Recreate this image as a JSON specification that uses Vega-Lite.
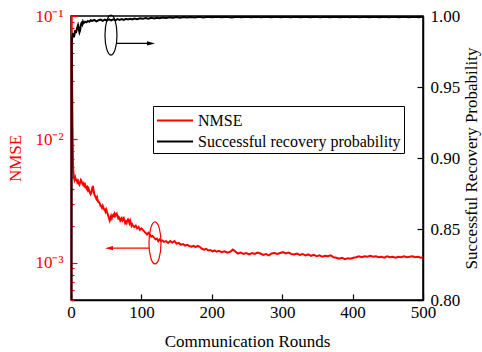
{
  "$schema": "https://vega.github.io/schema/vega-lite/v6.json",
  "width": 352,
  "height": 284,
  "autosize": {"type": "none"},
  "padding": {"left": 71, "top": 16, "right": 59, "bottom": 52},
  "background": "white",
  "config": {
    "font": "Liberation Serif",
    "view": {"stroke": "black", "strokeWidth": 1.5},
    "axis": {"grid": false, "titleFontWeight": "normal", "labelFontWeight": "normal", "labelFont": "Liberation Serif", "titleFont": "Liberation Serif"},
    "legend": {"labelFont": "Liberation Serif"}
  },
  "datasets": {
    "nmse": [
      {"round": 0, "nmse": 0.5}, {"round": 1, "nmse": 0.08}, {"round": 2, "nmse": 0.015}, {"round": 3, "nmse": 0.0058},
      {"round": 4, "nmse": 0.005}, {"round": 5, "nmse": 0.0047}, {"round": 6, "nmse": 0.0049}, {"round": 7, "nmse": 0.0046},
      {"round": 8, "nmse": 0.0048}, {"round": 9, "nmse": 0.0045}, {"round": 10, "nmse": 0.0046}, {"round": 11, "nmse": 0.0044},
      {"round": 12, "nmse": 0.0043}, {"round": 13, "nmse": 0.0045}, {"round": 14, "nmse": 0.0047}, {"round": 15, "nmse": 0.0046},
      {"round": 16, "nmse": 0.0044}, {"round": 17, "nmse": 0.0043}, {"round": 18, "nmse": 0.0044}, {"round": 19, "nmse": 0.0042},
      {"round": 20, "nmse": 0.0043}, {"round": 21, "nmse": 0.0041}, {"round": 22, "nmse": 0.004}, {"round": 23, "nmse": 0.0041},
      {"round": 24, "nmse": 0.0039}, {"round": 25, "nmse": 0.004}, {"round": 26, "nmse": 0.0038}, {"round": 27, "nmse": 0.0037},
      {"round": 28, "nmse": 0.0036}, {"round": 29, "nmse": 0.0037}, {"round": 30, "nmse": 0.004}, {"round": 31, "nmse": 0.0042},
      {"round": 32, "nmse": 0.0039}, {"round": 33, "nmse": 0.0036}, {"round": 34, "nmse": 0.0035}, {"round": 35, "nmse": 0.0034},
      {"round": 36, "nmse": 0.0033}, {"round": 37, "nmse": 0.0034}, {"round": 38, "nmse": 0.0032}, {"round": 39, "nmse": 0.0031},
      {"round": 40, "nmse": 0.0031}, {"round": 41, "nmse": 0.003}, {"round": 42, "nmse": 0.0029}, {"round": 43, "nmse": 0.0029},
      {"round": 44, "nmse": 0.0028}, {"round": 45, "nmse": 0.0029}, {"round": 46, "nmse": 0.0028}, {"round": 47, "nmse": 0.0027},
      {"round": 48, "nmse": 0.0027}, {"round": 49, "nmse": 0.0026}, {"round": 50, "nmse": 0.0027}, {"round": 51, "nmse": 0.0026},
      {"round": 52, "nmse": 0.0025}, {"round": 53, "nmse": 0.0024}, {"round": 54, "nmse": 0.0023}, {"round": 55, "nmse": 0.0022},
      {"round": 56, "nmse": 0.0023}, {"round": 57, "nmse": 0.0024}, {"round": 58, "nmse": 0.0023}, {"round": 59, "nmse": 0.0024},
      {"round": 60, "nmse": 0.00245}, {"round": 61, "nmse": 0.0024}, {"round": 62, "nmse": 0.0025}, {"round": 63, "nmse": 0.0024},
      {"round": 64, "nmse": 0.00245}, {"round": 65, "nmse": 0.0025}, {"round": 66, "nmse": 0.0024}, {"round": 67, "nmse": 0.0023},
      {"round": 68, "nmse": 0.00235}, {"round": 69, "nmse": 0.0023}, {"round": 70, "nmse": 0.0022}, {"round": 71, "nmse": 0.00225},
      {"round": 72, "nmse": 0.0023}, {"round": 73, "nmse": 0.0022}, {"round": 74, "nmse": 0.00225}, {"round": 75, "nmse": 0.0023},
      {"round": 76, "nmse": 0.0022}, {"round": 77, "nmse": 0.0021}, {"round": 78, "nmse": 0.00215}, {"round": 79, "nmse": 0.0021},
      {"round": 80, "nmse": 0.0022}, {"round": 81, "nmse": 0.00225}, {"round": 82, "nmse": 0.0022}, {"round": 83, "nmse": 0.0021},
      {"round": 84, "nmse": 0.0022}, {"round": 85, "nmse": 0.0021}, {"round": 86, "nmse": 0.002}, {"round": 87, "nmse": 0.00205},
      {"round": 88, "nmse": 0.002}, {"round": 90, "nmse": 0.00195}, {"round": 92, "nmse": 0.002}, {"round": 94, "nmse": 0.0019},
      {"round": 96, "nmse": 0.00195}, {"round": 98, "nmse": 0.00185}, {"round": 100, "nmse": 0.0019}, {"round": 102, "nmse": 0.00185},
      {"round": 104, "nmse": 0.0018}, {"round": 106, "nmse": 0.00175}, {"round": 108, "nmse": 0.0017}, {"round": 110, "nmse": 0.00175},
      {"round": 112, "nmse": 0.0017}, {"round": 114, "nmse": 0.00163}, {"round": 116, "nmse": 0.00165}, {"round": 118, "nmse": 0.0016},
      {"round": 120, "nmse": 0.00155}, {"round": 122, "nmse": 0.00157}, {"round": 124, "nmse": 0.0015}, {"round": 126, "nmse": 0.00155},
      {"round": 128, "nmse": 0.0015}, {"round": 130, "nmse": 0.00152}, {"round": 132, "nmse": 0.00148}, {"round": 135, "nmse": 0.0015},
      {"round": 138, "nmse": 0.00145}, {"round": 141, "nmse": 0.0015}, {"round": 144, "nmse": 0.00146}, {"round": 147, "nmse": 0.0015},
      {"round": 150, "nmse": 0.00143}, {"round": 153, "nmse": 0.00145}, {"round": 156, "nmse": 0.0014}, {"round": 159, "nmse": 0.00142},
      {"round": 162, "nmse": 0.00138}, {"round": 165, "nmse": 0.0014}, {"round": 168, "nmse": 0.00137}, {"round": 171, "nmse": 0.00135},
      {"round": 174, "nmse": 0.00137}, {"round": 177, "nmse": 0.00134}, {"round": 180, "nmse": 0.00137}, {"round": 183, "nmse": 0.00135},
      {"round": 186, "nmse": 0.0013}, {"round": 189, "nmse": 0.00128}, {"round": 192, "nmse": 0.0013}, {"round": 195, "nmse": 0.00126},
      {"round": 198, "nmse": 0.00127}, {"round": 201, "nmse": 0.00124}, {"round": 204, "nmse": 0.00126}, {"round": 207, "nmse": 0.00123},
      {"round": 210, "nmse": 0.00125}, {"round": 214, "nmse": 0.00122}, {"round": 218, "nmse": 0.00124}, {"round": 222, "nmse": 0.00121},
      {"round": 226, "nmse": 0.00123}, {"round": 230, "nmse": 0.00128}, {"round": 233, "nmse": 0.00124}, {"round": 237, "nmse": 0.00119},
      {"round": 241, "nmse": 0.00121}, {"round": 245, "nmse": 0.00118}, {"round": 249, "nmse": 0.0012}, {"round": 253, "nmse": 0.00117},
      {"round": 257, "nmse": 0.0012}, {"round": 261, "nmse": 0.00118}, {"round": 265, "nmse": 0.00121}, {"round": 269, "nmse": 0.00119},
      {"round": 273, "nmse": 0.00116}, {"round": 277, "nmse": 0.00118}, {"round": 281, "nmse": 0.00115}, {"round": 285, "nmse": 0.00119},
      {"round": 289, "nmse": 0.0012}, {"round": 293, "nmse": 0.00118}, {"round": 297, "nmse": 0.0012}, {"round": 301, "nmse": 0.00122},
      {"round": 305, "nmse": 0.00119}, {"round": 309, "nmse": 0.00121}, {"round": 313, "nmse": 0.00118}, {"round": 317, "nmse": 0.00117},
      {"round": 321, "nmse": 0.00119}, {"round": 325, "nmse": 0.00116}, {"round": 329, "nmse": 0.00118}, {"round": 333, "nmse": 0.00115},
      {"round": 337, "nmse": 0.00117}, {"round": 341, "nmse": 0.00114}, {"round": 345, "nmse": 0.00116}, {"round": 349, "nmse": 0.00113},
      {"round": 353, "nmse": 0.00115}, {"round": 357, "nmse": 0.00112}, {"round": 361, "nmse": 0.00114}, {"round": 365, "nmse": 0.00113},
      {"round": 369, "nmse": 0.00115}, {"round": 373, "nmse": 0.00111}, {"round": 377, "nmse": 0.0011}, {"round": 381, "nmse": 0.00108},
      {"round": 385, "nmse": 0.0011}, {"round": 389, "nmse": 0.00107}, {"round": 393, "nmse": 0.00109}, {"round": 397, "nmse": 0.00108},
      {"round": 401, "nmse": 0.0011}, {"round": 405, "nmse": 0.00111}, {"round": 409, "nmse": 0.00113}, {"round": 413, "nmse": 0.00111},
      {"round": 417, "nmse": 0.00113}, {"round": 421, "nmse": 0.00112}, {"round": 425, "nmse": 0.00114}, {"round": 429, "nmse": 0.00112},
      {"round": 433, "nmse": 0.00113}, {"round": 437, "nmse": 0.00111}, {"round": 441, "nmse": 0.00112}, {"round": 445, "nmse": 0.0011},
      {"round": 449, "nmse": 0.00113}, {"round": 453, "nmse": 0.00111}, {"round": 457, "nmse": 0.00112}, {"round": 461, "nmse": 0.0011},
      {"round": 465, "nmse": 0.00112}, {"round": 469, "nmse": 0.00111}, {"round": 473, "nmse": 0.00113}, {"round": 477, "nmse": 0.00111},
      {"round": 481, "nmse": 0.00112}, {"round": 485, "nmse": 0.00113}, {"round": 489, "nmse": 0.00111}, {"round": 493, "nmse": 0.00112},
      {"round": 497, "nmse": 0.0011}, {"round": 500, "nmse": 0.00111}
    ],
    "prob": [
      {"round": 0, "p": 0.0}, {"round": 1, "p": 0.982}, {"round": 2, "p": 0.986}, {"round": 3, "p": 0.988},
      {"round": 4, "p": 0.985}, {"round": 5, "p": 0.987}, {"round": 6, "p": 0.99}, {"round": 7, "p": 0.988},
      {"round": 8, "p": 0.99}, {"round": 9, "p": 0.992}, {"round": 10, "p": 0.9935}, {"round": 11, "p": 0.991},
      {"round": 12, "p": 0.9885}, {"round": 13, "p": 0.99}, {"round": 14, "p": 0.994}, {"round": 15, "p": 0.995},
      {"round": 16, "p": 0.994}, {"round": 17, "p": 0.996}, {"round": 18, "p": 0.995}, {"round": 20, "p": 0.996},
      {"round": 22, "p": 0.9955}, {"round": 24, "p": 0.9965}, {"round": 26, "p": 0.996}, {"round": 28, "p": 0.997},
      {"round": 30, "p": 0.9965}, {"round": 33, "p": 0.9972}, {"round": 36, "p": 0.9962}, {"round": 39, "p": 0.997},
      {"round": 42, "p": 0.9975}, {"round": 45, "p": 0.9966}, {"round": 48, "p": 0.9974}, {"round": 51, "p": 0.9968},
      {"round": 54, "p": 0.9976}, {"round": 57, "p": 0.9969}, {"round": 60, "p": 0.9977}, {"round": 63, "p": 0.997},
      {"round": 66, "p": 0.9978}, {"round": 69, "p": 0.9972}, {"round": 72, "p": 0.9979}, {"round": 75, "p": 0.9973},
      {"round": 78, "p": 0.998}, {"round": 81, "p": 0.9975}, {"round": 84, "p": 0.9981}, {"round": 87, "p": 0.9976},
      {"round": 90, "p": 0.9982}, {"round": 94, "p": 0.9978}, {"round": 98, "p": 0.9984}, {"round": 102, "p": 0.998},
      {"round": 106, "p": 0.9986}, {"round": 110, "p": 0.9981}, {"round": 114, "p": 0.9987}, {"round": 118, "p": 0.9983},
      {"round": 122, "p": 0.9988}, {"round": 126, "p": 0.9985}, {"round": 130, "p": 0.999}, {"round": 135, "p": 0.9986},
      {"round": 140, "p": 0.9991}, {"round": 145, "p": 0.9987}, {"round": 150, "p": 0.9992}, {"round": 155, "p": 0.9988},
      {"round": 160, "p": 0.9993}, {"round": 165, "p": 0.9989}, {"round": 170, "p": 0.9993}, {"round": 176, "p": 0.999},
      {"round": 182, "p": 0.9994}, {"round": 188, "p": 0.999}, {"round": 194, "p": 0.9994}, {"round": 200, "p": 0.9991},
      {"round": 207, "p": 0.9995}, {"round": 214, "p": 0.9991}, {"round": 221, "p": 0.9994}, {"round": 228, "p": 0.999},
      {"round": 235, "p": 0.9995}, {"round": 242, "p": 0.9991}, {"round": 249, "p": 0.9994}, {"round": 256, "p": 0.9992},
      {"round": 263, "p": 0.9995}, {"round": 270, "p": 0.9991}, {"round": 277, "p": 0.9994}, {"round": 284, "p": 0.9992},
      {"round": 291, "p": 0.9995}, {"round": 298, "p": 0.9991}, {"round": 305, "p": 0.9995}, {"round": 312, "p": 0.9992},
      {"round": 319, "p": 0.9994}, {"round": 326, "p": 0.9991}, {"round": 333, "p": 0.9995}, {"round": 340, "p": 0.9992},
      {"round": 347, "p": 0.9994}, {"round": 354, "p": 0.9991}, {"round": 361, "p": 0.9995}, {"round": 368, "p": 0.9992},
      {"round": 375, "p": 0.9994}, {"round": 382, "p": 0.9991}, {"round": 389, "p": 0.9995}, {"round": 396, "p": 0.9992},
      {"round": 403, "p": 0.9994}, {"round": 410, "p": 0.9991}, {"round": 417, "p": 0.9995}, {"round": 424, "p": 0.9992},
      {"round": 431, "p": 0.9994}, {"round": 438, "p": 0.9992}, {"round": 445, "p": 0.9995}, {"round": 452, "p": 0.9991},
      {"round": 459, "p": 0.9994}, {"round": 466, "p": 0.9992}, {"round": 473, "p": 0.9995}, {"round": 480, "p": 0.9991},
      {"round": 487, "p": 0.9994}, {"round": 494, "p": 0.9992}, {"round": 500, "p": 0.9994}
    ]
  },
  "layer": [
    {
      "layer": [
        {
          "data": {"name": "nmse"},
          "transform": [{"calculate": "'NMSE'", "as": "series"}],
          "mark": {"type": "line", "strokeWidth": 2, "clip": true},
          "encoding": {
            "x": {
              "field": "round", "type": "quantitative",
              "scale": {"domain": [0, 500], "nice": false, "zero": false},
              "axis": {
                "title": "Communication Rounds", "titleFont": "Liberation Serif", "titleFontSize": 17, "titleColor": "black",
                "titleY": 41, "titleBaseline": "middle",
                "values": [0, 50, 100, 150, 200, 250, 300, 350, 400, 450, 500],
                "labelExpr": "datum.value % 100 === 0 ? datum.label : ''",
                "labelFont": "Liberation Serif", "labelFontSize": 17, "labelColor": "black", "labelPadding": 10, "labelFlush": false,
                "tickSize": {"condition": {"test": "datum.value % 100 === 0", "value": -6}, "value": -3},
                "tickColor": "black", "tickWidth": 1.2, "domainColor": "black", "domainWidth": 1.5
              }
            },
            "y": {
              "field": "nmse", "type": "quantitative",
              "scale": {"type": "log", "domain": [0.0005, 0.1], "nice": false},
              "axis": {
                "title": "NMSE", "titleFont": "Liberation Serif", "titleFontSize": 17, "titleColor": "red",
                "titleAngle": 270, "titleX": -56, "titleY": 142, "titleAlign": "center", "titleBaseline": "middle",
                "values": [0.0005, 0.0006, 0.0007, 0.0008, 0.0009, 0.001, 0.002, 0.003, 0.004, 0.005, 0.006, 0.007, 0.008, 0.009, 0.01, 0.02, 0.03, 0.04, 0.05, 0.06, 0.07, 0.08, 0.09, 0.1],
                "labelExpr": "datum.value === 0.1 ? '10⁻¹' : datum.value === 0.01 ? '10⁻²' : datum.value === 0.001 ? '10⁻³' : ''",
                "labelFont": "Liberation Serif", "labelFontSize": 17, "labelColor": "red", "labelPadding": 14, "labelFlush": false,
                "tickSize": {"condition": {"test": "datum.value === 0.1 || datum.value === 0.01 || datum.value === 0.001", "value": -6}, "value": -3},
                "tickColor": "red", "tickWidth": 1.2, "domainColor": "red", "domainWidth": 1.5
              }
            },
            "color": {
              "field": "series", "type": "nominal",
              "scale": {"domain": ["NMSE", "Successful recovery probability"], "range": ["#ff0000", "#000000"]},
              "legend": {
                "title": null, "orient": "none", "legendX": 82, "legendY": 90,
                "symbolType": "M -1 0 L 2.43 0", "symbolSize": 441, "symbolStrokeWidth": 2,
                "labelFont": "Liberation Serif", "labelFontSize": 16, "labelColor": "black", "labelLimit": 400, "labelOffset": 19,
                "rowPadding": 1, "padding": 3, "strokeColor": "black", "fillColor": "white"
              }
            }
          }
        },
        {
          "data": {"values": [{"round": 119.3, "nmse": 0.00145}]},
          "mark": {"type": "point", "shape": "M -0.286 0 A 0.286 1 0 1 1 0.286 0 A 0.286 1 0 1 1 -0.286 0 Z", "size": 1764, "filled": false, "stroke": "red", "strokeWidth": 1.2, "opacity": 1},
          "encoding": {
            "x": {"field": "round", "type": "quantitative"},
            "y": {"field": "nmse", "type": "quantitative"}
          }
        },
        {
          "data": {"values": [{"round": 54.0, "round2": 110.8, "nmse": 0.001315}]},
          "mark": {"type": "rule", "color": "red", "strokeWidth": 1.2},
          "encoding": {
            "x": {"field": "round", "type": "quantitative"},
            "x2": {"field": "round2"},
            "y": {"field": "nmse", "type": "quantitative"}
          }
        },
        {
          "data": {"values": [{"round": 54.0, "nmse": 0.001315}]},
          "mark": {"type": "point", "shape": "M -1 0 L 1 -0.55 L 1 0.55 Z", "size": 64, "filled": true, "color": "red", "opacity": 1},
          "encoding": {
            "x": {"field": "round", "type": "quantitative"},
            "y": {"field": "nmse", "type": "quantitative"}
          }
        }
      ]
    },
    {
      "layer": [
        {
          "data": {"name": "prob"},
          "transform": [{"calculate": "'Successful recovery probability'", "as": "series"}],
          "mark": {"type": "line", "strokeWidth": 2, "clip": true},
          "encoding": {
            "x": {"field": "round", "type": "quantitative"},
            "y": {
              "field": "p", "type": "quantitative",
              "scale": {"domain": [0.8, 1.0], "nice": false, "zero": false},
              "axis": {
                "orient": "right",
                "title": "Successful Recovery Probability", "titleFont": "Liberation Serif", "titleFontSize": 17, "titleColor": "black",
                "titleAngle": 270, "titleX": 48, "titleY": 142, "titleAlign": "center", "titleBaseline": "middle",
                "values": [0.8, 0.825, 0.85, 0.875, 0.9, 0.925, 0.95, 0.975, 1.0],
                "labelExpr": "round(datum.value * 1000) % 50 === 0 ? format(datum.value, '.2f') : ''",
                "labelFont": "Liberation Serif", "labelFontSize": 17, "labelColor": "black", "labelPadding": 13, "labelFlush": false,
                "tickSize": {"condition": {"test": "round(datum.value * 1000) % 50 === 0", "value": -6}, "value": -3},
                "tickColor": "black", "tickWidth": 1.2, "domainColor": "black", "domainWidth": 1.5
              }
            },
            "color": {"field": "series", "type": "nominal"}
          }
        },
        {
          "data": {"values": [{"round": 56.8, "p": 0.9866}]},
          "mark": {"type": "point", "shape": "M -0.3 0 A 0.3 1 0 1 1 0.3 0 A 0.3 1 0 1 1 -0.3 0 Z", "size": 1600, "filled": false, "stroke": "black", "strokeWidth": 1.2, "opacity": 1},
          "encoding": {
            "x": {"field": "round", "type": "quantitative"},
            "y": {"field": "p", "type": "quantitative"}
          }
        },
        {
          "data": {"values": [{"round": 65.3, "round2": 113.6, "p": 0.9807}]},
          "mark": {"type": "rule", "color": "black", "strokeWidth": 1.2},
          "encoding": {
            "x": {"field": "round", "type": "quantitative"},
            "x2": {"field": "round2"},
            "y": {"field": "p", "type": "quantitative"}
          }
        },
        {
          "data": {"values": [{"round": 113.6, "p": 0.9807}]},
          "mark": {"type": "point", "shape": "M 1 0 L -1 -0.55 L -1 0.55 Z", "size": 64, "filled": true, "color": "black", "opacity": 1},
          "encoding": {
            "x": {"field": "round", "type": "quantitative"},
            "y": {"field": "p", "type": "quantitative"}
          }
        }
      ]
    }
  ],
  "resolve": {"scale": {"y": "independent"}}
}
